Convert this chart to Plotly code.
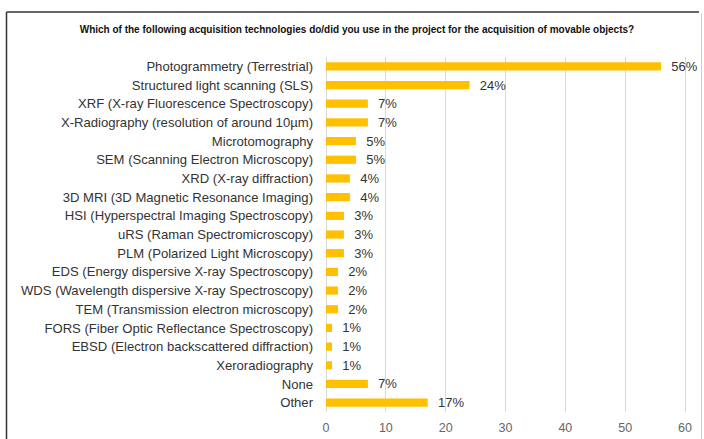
import plotly.graph_objects as go

categories = [
    "Photogrammetry (Terrestrial)",
    "Structured light scanning (SLS)",
    "XRF (X-ray Fluorescence Spectroscopy)",
    "X-Radiography (resolution of around 10µm)",
    "Microtomography",
    "SEM (Scanning Electron Microscopy)",
    "XRD (X-ray diffraction)",
    "3D MRI (3D Magnetic Resonance Imaging)",
    "HSI (Hyperspectral Imaging Spectroscopy)",
    "uRS (Raman Spectromicroscopy)",
    "PLM (Polarized Light Microscopy)",
    "EDS (Energy dispersive X-ray Spectroscopy)",
    "WDS (Wavelength dispersive X-ray Spectroscopy)",
    "TEM (Transmission electron microscopy)",
    "FORS (Fiber Optic Reflectance Spectroscopy)",
    "EBSD (Electron backscattered diffraction)",
    "Xeroradiography",
    "None",
    "Other",
]
values = [56, 24, 7, 7, 5, 5, 4, 4, 3, 3, 3, 2, 2, 2, 1, 1, 1, 7, 17]
labels = [f"{v}%" for v in values]
x_ticks = [0, 10, 20, 30, 40, 50, 60]

fig = go.Figure(go.Bar(
    y=categories,
    x=values,
    orientation="h",
    marker=dict(color="#FFC000", line=dict(width=0)),
    text=["\u00a0\u00a0" + t for t in labels],
    textposition="outside",
    constraintext="none",
    textfont=dict(family="Liberation Sans, Arial, sans-serif", size=13, color="#333333"),
    cliponaxis=False,
))

W, H = 704, 439
ml, mr, mt, mb = 326, 13, 57, 27
pw = W - ml - mr
ph = H - mt - mb

def px_x(p):
    return (p - ml) / pw

def px_y(p):
    return 1 - (p - mt) / ph

fig.update_layout(
    width=W, height=H,
    margin=dict(l=ml, r=mr, t=mt, b=mb, pad=0, autoexpand=False),
    paper_bgcolor="white",
    plot_bgcolor="white",
    bargap=0.56,
    showlegend=False,
    title=dict(
        text="<b>Which of the following acquisition technologies do/did you use in the project for the acquisition of movable objects?</b>",
        x=0.507, xanchor="center", y=1 - 29 / H, yanchor="middle",
        font=dict(family="Liberation Sans Narrow, Arial Narrow, sans-serif", size=10, color="#111111"),
    ),
    xaxis=dict(
        range=[0, 61],
        tickmode="array", tickvals=x_ticks,
        showgrid=True, gridcolor="#D9D9D9", gridwidth=1,
        zeroline=True, zerolinecolor="#D9D9D9", zerolinewidth=1,
        showline=False, automargin=False,
        tickfont=dict(family="Liberation Sans, Arial, sans-serif", size=12.5, color="#666666"),
        ticks="", ticklabelstandoff=6,
    ),
    yaxis=dict(
        autorange="reversed",
        showgrid=False,
        showline=False, automargin=False,
        tickfont=dict(family="Liberation Sans, Arial, sans-serif", size=13.1, color="#333333"),
        ticks="", ticklabelstandoff=12,
    ),
    shapes=[
        dict(type="line", xref="paper", yref="paper",
             x0=px_x(6.5), x1=px_x(6.5), y0=px_y(12), y1=px_y(445),
             line=dict(color="#333333", width=1.5)),
        dict(type="line", xref="paper", yref="paper",
             x0=px_x(6.5), x1=px_x(699), y0=px_y(12), y1=px_y(12),
             line=dict(color="#333333", width=1.5)),
        dict(type="line", xref="paper", yref="paper",
             x0=px_x(701.5), x1=px_x(701.5), y0=px_y(14), y1=px_y(445),
             line=dict(color="#CCCCCC", width=1)),
    ],
)

fig.write_html("out.html", config={"displayModeBar": False},
               post_script="document.body.style.margin='0';document.body.style.overflow='hidden';")
